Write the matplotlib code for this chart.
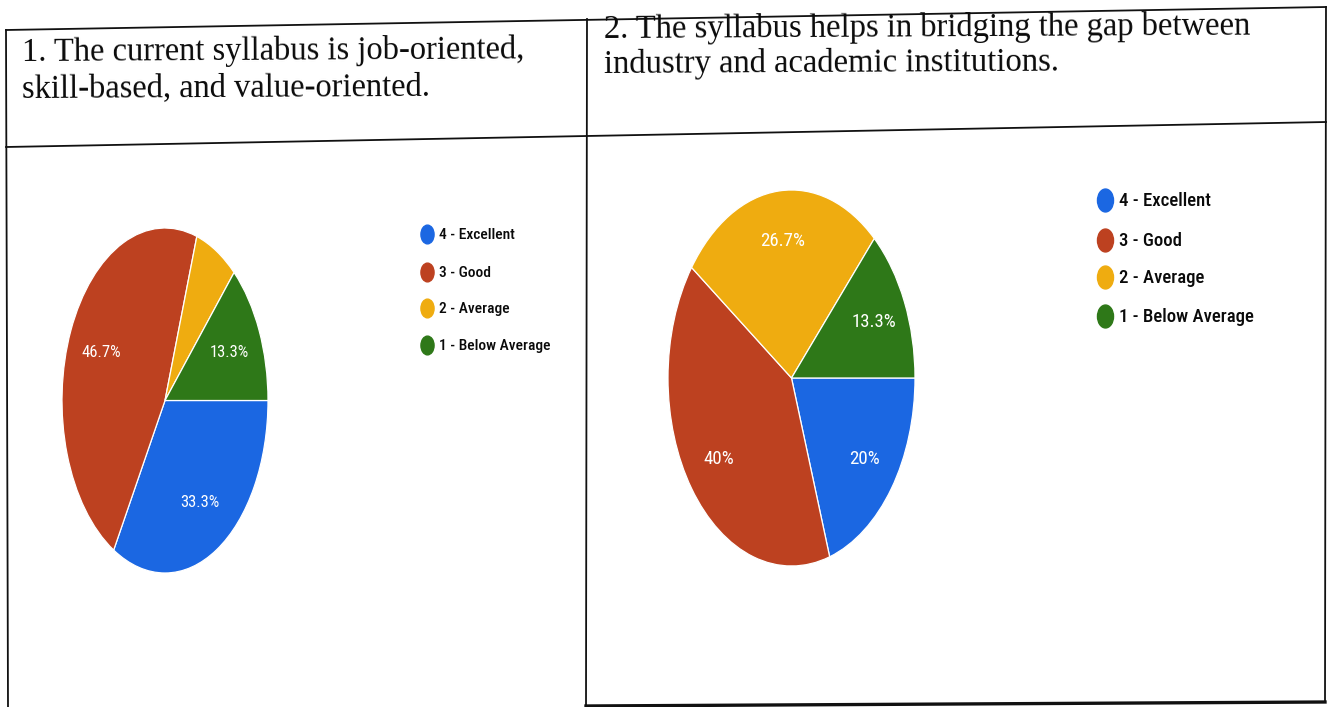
import matplotlib
matplotlib.use("Agg")
import matplotlib.pyplot as plt
from matplotlib.lines import Line2D
from matplotlib.path import Path
from matplotlib.transforms import Affine2D
from matplotlib import font_manager

W, H = 1335, 707

categories = ["4 - Excellent", "3 - Good", "2 - Average", "1 - Below Average"]
values_q1 = [33.3, 46.7, 6.7, 13.3]
values_q2 = [20.0, 40.0, 26.7, 13.3]
title_q1 = ["1. The current syllabus is job-oriented,", "skill-based, and value-oriented."]
title_q2 = ["2. The syllabus helps in bridging the gap between", "industry and academic institutions."]
colors = ["#1b67e2", "#bd4120", "#efac10", "#2e7818"]

names = {f.name for f in font_manager.fontManager.ttflist}
def pick(cands, default):
    for c in cands:
        if c in names:
            return c
    return default
narrow = pick(["Roboto Condensed", "Archivo Narrow", "Liberation Sans Narrow", "Arimo"], "Roboto")
serif = "Liberation Serif"

fig = plt.figure(figsize=(W / 100, H / 100), dpi=100)
fig.patch.set_facecolor("white")
renderer = fig.canvas.get_renderer()

ov = fig.add_axes([0, 0, 1, 1])
ov.set_xlim(0, W)
ov.set_ylim(H, 0)
ov.axis("off")

def fit(t, target_w):
    w = t.get_window_extent(renderer).width
    t.set_fontsize(t.get_fontsize() * target_w / w)
    return t.get_fontsize()

def line(x0, y0, x1, y1, lw=1.3, c="#111111"):
    ov.add_line(Line2D([x0, x1], [y0, y1], lw=lw, color=c))

# table borders (slightly skewed scan)
line(6, 30, 1326, 7)
line(6, 147, 1326, 122)
line(6, 30, 8, 707)
line(587, 19, 586, 707)
line(1326, 7, 1325, 702)
line(586, 706, 1325, 702, lw=2.4)

def title(lines, x, y0, y1, target_w):
    t0 = ov.text(x, y0, lines[0], fontsize=20, family=serif, color="#0a0a0a",
                 va="baseline", ha="left")
    fsz = fit(t0, target_w)
    t0.set_rotation(0.3)
    t0.set_rotation_mode("anchor")
    ov.text(x, y1, lines[1], fontsize=fsz, family=serif, color="#0a0a0a",
            va="baseline", ha="left", rotation=0.3, rotation_mode="anchor")

title(title_q1, 22, 61, 97, 503)
title(title_q2, 604, 38, 73, 647)

def fmt(p):
    if p < 10:
        return ""
    s = f"{p:.1f}"
    if s.endswith(".0"):
        s = s[:-2]
    return s + "%"

def draw_pie(box, values, pctd, ref_w):
    x0, y0, x1, y1 = box
    ax = fig.add_axes([x0 / W, 1 - y1 / H, (x1 - x0) / W, (y1 - y0) / H])
    wedges, texts, autotexts = ax.pie(values, colors=colors, startangle=0,
                                      counterclock=False, autopct=fmt,
                                      pctdistance=pctd,
                                      wedgeprops=dict(edgecolor="white", linewidth=0.9),
                                      textprops=dict(color="white", fontsize=11,
                                                     family=narrow))
    ax.set_aspect("auto")
    ax.set_xlim(-1.0, 1.0)
    ax.set_ylim(-1.0, 1.0)
    ax.axis("off")
    sample = [t for t in autotexts if len(t.get_text()) == 5][0]
    fsz = fit(sample, ref_w)
    for t in autotexts:
        t.set_fontsize(fsz)
    return ax

draw_pie((62, 228, 268, 573), values_q1, 0.68, 40)
draw_pie((668, 190, 915, 566), values_q2, 0.73, 45)

ell = Path.unit_circle().transformed(Affine2D().scale(0.7, 1.0))

def legend(x, ys, tx, target_w, ms):
    ts = []
    for y, lab, c in zip(ys, categories, colors):
        ov.plot([x], [y], marker=ell, ms=ms, color=c, mec=c, ls="none")
        ts.append(ov.text(tx, y + 1, lab, fontsize=14, family=narrow, color="#0a0a0a",
                          fontweight="medium", va="center", ha="left"))
    fsz = fit(ts[-1], target_w)
    for t in ts:
        t.set_fontsize(fsz)

legend(427, [234, 272, 308, 345], 439, 112, 13.5)
legend(1105, [200, 240, 277, 316], 1119, 136, 16.5)

fig.savefig("out.png", dpi=100, facecolor="white")
